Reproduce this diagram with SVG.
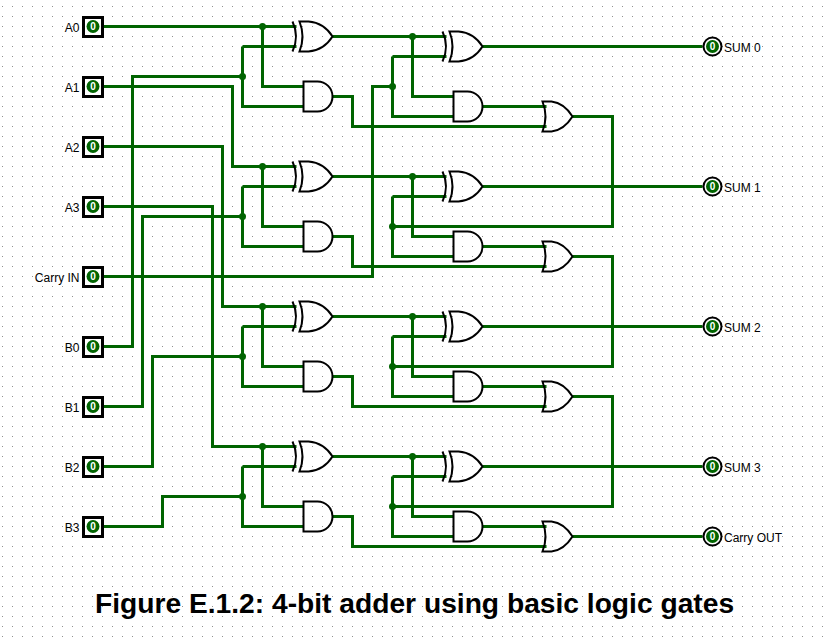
<svg xmlns="http://www.w3.org/2000/svg" width="827" height="642" viewBox="0 0 827 642">
<style>
text{font-family:"Liberation Sans",Arial,sans-serif;fill:#000}
.l{font-size:12px}
.r{text-anchor:end}
.title{font-size:28.2px;font-weight:bold}
.v{font-family:"Liberation Sans",Arial,sans-serif;font-size:10px;font-weight:bold;fill:#fff;text-anchor:middle}
.w{fill:none;stroke:#006400;stroke-width:3;stroke-linejoin:miter}
.g{fill:none;stroke:#000;stroke-width:2}
.b{fill:#fff;stroke:#000;stroke-width:3}
.c{fill:#006400}
.o{fill:#fff;stroke:#000;stroke-width:2}
</style>
<defs>
<pattern id="grid" width="10" height="10" patternUnits="userSpaceOnUse"><rect x="2" y="6" width="1" height="1" fill="#909090"/></pattern>
<g id="xor"><path class="g" d="M-10-15Q-3 0-10 15M-3-15H6C18-14 25-8 30 0C25 8 18 14 6 15H-3Q3 0-3-15Z"/></g>
<g id="or"><path class="g" d="M0-15H9C18-14 25-8 30 0C25 8 18 14 9 15H0Q6 0 0-15Z"/></g>
<g id="and"><path class="g" d="M1-15H15A15 15 0 0 1 15 15H1Z"/></g>
<g id="sw"><rect class="b" x="-9" y="-9" width="19" height="19"/><circle class="c" cx="0.5" cy="0" r="6.5"/><text class="v" x="0.5" y="3.5">0</text></g>
<g id="out"><circle class="o" cx="0" cy="0" r="9"/><circle class="c" cx="0" cy="0" r="6.5"/><text class="v" x="0" y="3.5">0</text></g>
</defs>
<rect width="827" height="642" fill="#fff"/>
<rect width="827" height="642" fill="url(#grid)"/>
<g id="connectors" transform="translate(0.5 0.5)">
<path class="w" d="M102 26H296M262 26V86H303"/>
<path class="w" d="M102 346H132V76H242M242 46H296M242 46V106H303"/>
<path class="w" d="M102 86H232V166H296M262 166V226H303"/>
<path class="w" d="M102 406H142V216H242M242 186H296M242 186V246H303"/>
<path class="w" d="M102 146H222V306H296M262 306V366H303"/>
<path class="w" d="M102 466H152V356H242M242 326H296M242 326V386H303"/>
<path class="w" d="M102 206H212V446H296M262 446V506H303"/>
<path class="w" d="M102 526H162V496H242M242 466H296M242 466V526H303"/>
<path class="w" d="M102 276H372V86H392M392 56H446M392 56V116H453"/>
<path class="w" d="M332 36H446M412 36V96H453"/>
<path class="w" d="M332 176H446M412 176V236H453"/>
<path class="w" d="M332 316H446M412 316V376H453"/>
<path class="w" d="M332 456H446M412 456V516H453"/>
<path class="w" d="M482 46H702M482 186H702M482 326H702M482 466H702"/>
<path class="w" d="M482 106H546M482 246H546M482 386H546M482 526H546"/>
<path class="w" d="M332 96H352V126H546M332 236H352V266H546M332 376H352V406H546M332 516H352V546H546"/>
<path class="w" d="M572 116H612V226H392M392 196H446M392 196V256H453"/>
<path class="w" d="M572 256H612V366H392M392 336H446M392 336V396H453"/>
<path class="w" d="M572 396H612V506H392M392 476H446M392 476V536H453"/>
<path class="w" d="M572 536H702"/>
<g class="c">
<circle cx="262" cy="26" r="3.5"/><circle cx="242" cy="76" r="3.5"/><circle cx="262" cy="166" r="3.5"/><circle cx="242" cy="216" r="3.5"/><circle cx="262" cy="306" r="3.5"/><circle cx="242" cy="356" r="3.5"/><circle cx="262" cy="446" r="3.5"/><circle cx="242" cy="496" r="3.5"/>
<circle cx="412" cy="36" r="3.5"/><circle cx="392" cy="86" r="3.5"/><circle cx="412" cy="176" r="3.5"/><circle cx="392" cy="226" r="3.5"/><circle cx="412" cy="316" r="3.5"/><circle cx="392" cy="366" r="3.5"/><circle cx="412" cy="456" r="3.5"/><circle cx="392" cy="506" r="3.5"/>
</g>
</g>
<g id="in-A0"><use href="#sw" x="92.5" y="26.5"/><text class="l r" x="79.5" y="32">A0</text></g>
<g id="in-A1"><use href="#sw" x="92.5" y="86.5"/><text class="l r" x="79.5" y="92">A1</text></g>
<g id="in-A2"><use href="#sw" x="92.5" y="146.5"/><text class="l r" x="79.5" y="152">A2</text></g>
<g id="in-A3"><use href="#sw" x="92.5" y="206.5"/><text class="l r" x="79.5" y="212">A3</text></g>
<g id="in-CarryIN"><use href="#sw" x="92.5" y="276.5"/><text class="l r" x="79.5" y="282">Carry IN</text></g>
<g id="in-B0"><use href="#sw" x="92.5" y="346.5"/><text class="l r" x="79.5" y="352">B0</text></g>
<g id="in-B1"><use href="#sw" x="92.5" y="406.5"/><text class="l r" x="79.5" y="412">B1</text></g>
<g id="in-B2"><use href="#sw" x="92.5" y="466.5"/><text class="l r" x="79.5" y="472">B2</text></g>
<g id="in-B3"><use href="#sw" x="92.5" y="526.5"/><text class="l r" x="79.5" y="532">B3</text></g>
<g id="xor1-0"><use href="#xor" x="302.5" y="36.5"/></g><g id="and1-0"><use href="#and" x="302.5" y="96.5"/></g><g id="xor2-0"><use href="#xor" x="452.5" y="46.5"/></g><g id="and2-0"><use href="#and" x="452.5" y="106.5"/></g><g id="or-0"><use href="#or" x="542.5" y="116.5"/></g>
<g id="xor1-1"><use href="#xor" x="302.5" y="176.5"/></g><g id="and1-1"><use href="#and" x="302.5" y="236.5"/></g><g id="xor2-1"><use href="#xor" x="452.5" y="186.5"/></g><g id="and2-1"><use href="#and" x="452.5" y="246.5"/></g><g id="or-1"><use href="#or" x="542.5" y="256.5"/></g>
<g id="xor1-2"><use href="#xor" x="302.5" y="316.5"/></g><g id="and1-2"><use href="#and" x="302.5" y="376.5"/></g><g id="xor2-2"><use href="#xor" x="452.5" y="326.5"/></g><g id="and2-2"><use href="#and" x="452.5" y="386.5"/></g><g id="or-2"><use href="#or" x="542.5" y="396.5"/></g>
<g id="xor1-3"><use href="#xor" x="302.5" y="456.5"/></g><g id="and1-3"><use href="#and" x="302.5" y="516.5"/></g><g id="xor2-3"><use href="#xor" x="452.5" y="466.5"/></g><g id="and2-3"><use href="#and" x="452.5" y="526.5"/></g><g id="or-3"><use href="#or" x="542.5" y="536.5"/></g>
<g id="out-S0"><use href="#out" x="712.5" y="46.5"/><text class="l" x="724" y="52">SUM 0</text></g>
<g id="out-S1"><use href="#out" x="712.5" y="186.5"/><text class="l" x="724" y="192">SUM 1</text></g>
<g id="out-S2"><use href="#out" x="712.5" y="326.5"/><text class="l" x="724" y="332">SUM 2</text></g>
<g id="out-S3"><use href="#out" x="712.5" y="466.5"/><text class="l" x="724" y="472">SUM 3</text></g>
<g id="out-CO"><use href="#out" x="712.5" y="536.5"/><text class="l" x="724" y="542">Carry OUT</text></g>
<text class="title" x="95" y="613">Figure E.1.2: 4-bit adder using basic logic gates</text>
</svg>
